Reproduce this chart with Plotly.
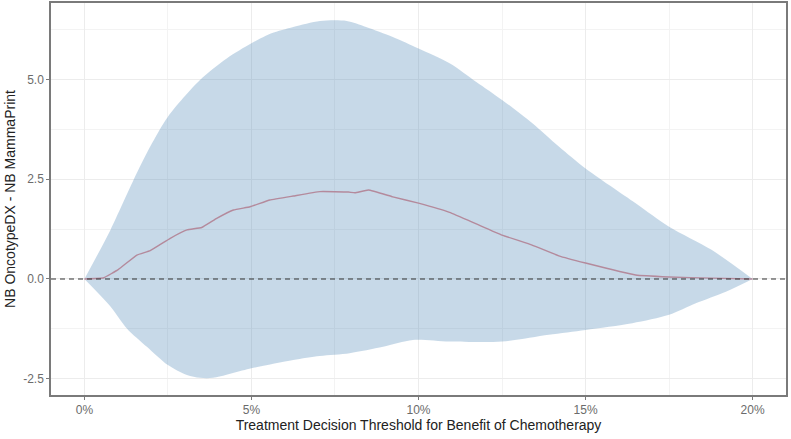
import plotly.graph_objects as go

# Treatment decision threshold (percent) and net benefit difference
upper_x = [0, 0.78, 1.47, 1.97, 2.5, 3.46, 4.26, 5.0, 5.6, 6.25, 7.05, 7.85, 8.43, 9.23, 10.0,
           10.93, 11.73, 12.5, 13.4, 14.2, 15.0, 16.5, 17.5, 18.77, 20.0]
upper_y = [0, 1.23, 2.48, 3.32, 4.07, 4.99, 5.53, 5.91, 6.16, 6.32, 6.47, 6.47, 6.32, 6.07, 5.78,
           5.41, 4.94, 4.49, 3.91, 3.32, 2.77, 1.90, 1.31, 0.73, 0]

lower_x = [0, 0.78, 1.27, 1.87, 2.5, 3.07, 3.46, 3.85, 5.0, 6.25, 7.05, 7.94, 8.94, 9.83,
           10.93, 12.5, 13.9, 15.0, 16.4, 17.5, 18.3, 19.2, 20.0]
lower_y = [0, -0.69, -1.24, -1.70, -2.16, -2.41, -2.48, -2.48, -2.24, -2.03, -1.93, -1.86, -1.70, -1.53,
           -1.57, -1.57, -1.40, -1.28, -1.11, -0.90, -0.61, -0.32, 0]

mean_x = [0, 0.58, 1.02, 1.57, 1.97, 2.57, 3.07, 3.51, 3.96, 4.46, 4.96, 5.55, 6.25, 7.05, 7.9, 8.1,
          8.5, 9.23, 10.0, 10.93, 11.73, 12.5, 13.4, 14.2, 15.0, 16.5, 17.5, 18.77, 20.0]
mean_y = [0, 0.03, 0.24, 0.60, 0.71, 1.02, 1.23, 1.29, 1.52, 1.73, 1.81, 1.98, 2.08, 2.19, 2.18, 2.16,
          2.23, 2.06, 1.90, 1.67, 1.38, 1.10, 0.85, 0.58, 0.40, 0.10, 0.05, 0.02, 0]

x_tickvals = [0, 0.05, 0.10, 0.15, 0.20]
x_ticktext = ["0%", "5%", "10%", "15%", "20%"]
y_tickvals = [-2.5, 0.0, 2.5, 5.0]
y_ticktext = ["-2.5", "0.0", "2.5", "5.0"]

ux = [v / 100 for v in upper_x]
lx = [v / 100 for v in lower_x]
mx = [v / 100 for v in mean_x]

fig = go.Figure()
fig.add_trace(go.Scatter(
    x=lx, y=lower_y, mode="lines",
    line=dict(width=0, shape="spline", smoothing=0.8),
    hoverinfo="skip", showlegend=False))
fig.add_trace(go.Scatter(
    x=ux, y=upper_y, mode="lines", fill="tonexty", fillcolor="rgba(70,130,180,0.3)",
    line=dict(width=0, shape="spline", smoothing=0.8),
    hoverinfo="skip", showlegend=False))
fig.add_hline(y=0, line=dict(color="#333333", width=1.1, dash="5px,4px"))
fig.add_trace(go.Scatter(
    x=mx, y=mean_y, mode="lines",
    line=dict(color="#b48a9c", width=1.4, shape="spline", smoothing=0.3), showlegend=False))

axis_common = dict(
    showline=True, linecolor="#7a7a7a", linewidth=1.5, mirror=True,
    ticks="outside", ticklen=3, tickcolor="#7a7a7a",
    gridcolor="#ececec", gridwidth=1, zeroline=False, automargin=False,
    tickfont=dict(family="Liberation Sans, Arial, sans-serif", size=12, color="#6b6b6b"),
)

fig.update_layout(
    width=791, height=439,
    margin=dict(l=51, r=5, t=3, b=44),
    paper_bgcolor="white", plot_bgcolor="white",
    font=dict(family="Liberation Sans, Arial, sans-serif"),
    xaxis=dict(
        **axis_common,
        range=[-0.01, 0.21], tickvals=x_tickvals, ticktext=x_ticktext,
        minor=dict(tickvals=[0.025, 0.075, 0.125, 0.175], showgrid=True, gridcolor="#f3f3f3", gridwidth=1),
        title=dict(text="Treatment Decision Threshold for Benefit of Chemotherapy",
                   font=dict(size=14, color="#222222"), standoff=2),
    ),
    yaxis=dict(
        **axis_common,
        range=[-2.91, 6.92], tickvals=y_tickvals, ticktext=y_ticktext,
        minor=dict(tickvals=[-1.25, 1.25, 3.75, 6.25], showgrid=True, gridcolor="#f3f3f3", gridwidth=1),
        title=dict(text="NB OncotypeDX - NB MammaPrint",
                   font=dict(size=14, color="#222222"), standoff=4),
    ),
)

fig.write_html("out.html")
